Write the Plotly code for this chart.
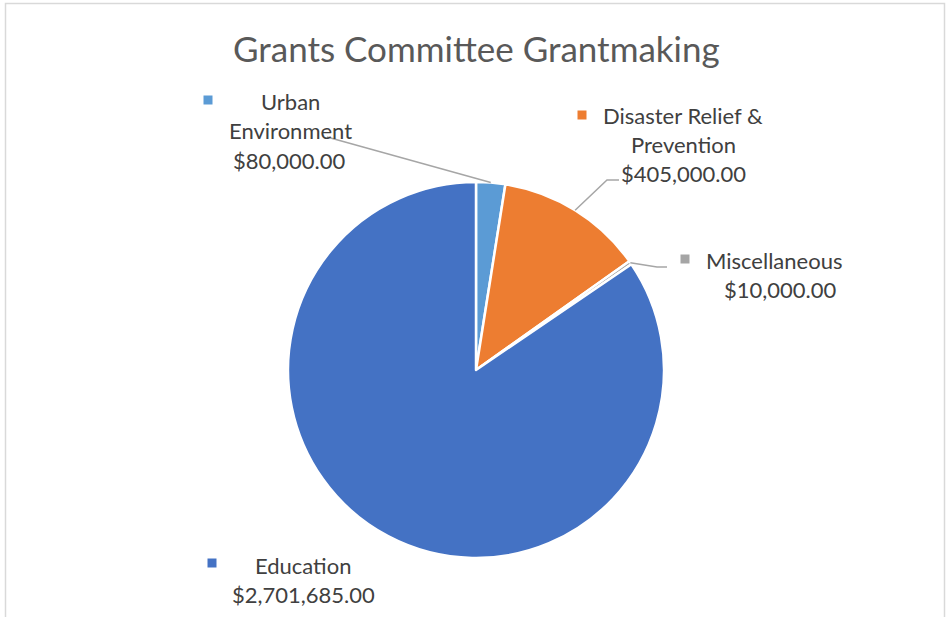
import math
import plotly.graph_objects as go

categories = ["Urban Environment", "Disaster Relief & Prevention", "Miscellaneous", "Education"]
values = [80000, 405000, 10000, 2701685]
colors = ["#5B9BD5", "#ED7D31", "#A5A5A5", "#4472C4"]
title_text = "Grants Committee Grantmaking"

W, H = 947, 617
CX, CY, R = 476, 370, 188

def px(x):
    return x / W

def py(y):
    return 1 - y / H

fig = go.Figure(go.Pie(
    labels=categories, values=values, sort=False, direction="clockwise", rotation=0,
    marker=dict(colors=colors, line=dict(color="white", width=2.5)),
    textinfo="none", hoverinfo="label+value", showlegend=False,
    domain=dict(x=[px(CX - R), px(CX + R)], y=[py(CY + R), py(CY - R)]),
))

total = sum(values)
cum = 0
mids = []
for v in values:
    mids.append((cum + v / 2) / total * 360)
    cum += v

def edge(i):
    a = math.radians(mids[i])
    return CX + R * math.sin(a), CY - R * math.cos(a)

FONT = "Lato"
TXT = "#404040"
LINE = "#A6A6A6"

labels_layout = [
    (["Urban", "Environment", "$%s" % format(values[0], ",.2f")], 102, 208, 100),
    (["Disaster Relief &", "Prevention", "$%s" % format(values[1], ",.2f")], 115, 582, 115),
    (["Miscellaneous", "$%s" % format(values[2], ",.2f")], 260, 685, 259),
    (["Education", "$%s" % format(values[3], ",.2f")], 565, 212, 563),
]
line_x = [
    [290, 290, 289],
    [683, 683, 683],
    [774, 780],
    [303, 303],
]

annotations = [dict(text=title_text, x=px(476), y=py(48), xref="paper", yref="paper",
                    showarrow=False, xanchor="center", yanchor="middle",
                    font=dict(family=FONT, size=35, color="#595959"))]
shapes = []
for k, (lines, y0, kx, ky) in enumerate(labels_layout):
    for j, t in enumerate(lines):
        annotations.append(dict(text=t, x=px(line_x[k][j]), y=py(y0 + j * 29), xref="paper", yref="paper",
                                showarrow=False, xanchor="center", yanchor="middle",
                                font=dict(family=FONT, size=22, color=TXT)))
    shapes.append(dict(type="rect", xref="paper", yref="paper",
                       x0=px(kx - 4.5), x1=px(kx + 4.5), y0=py(ky + 4.5), y1=py(ky - 4.5),
                       fillcolor=colors[k], line=dict(width=0)))

ex, ey = edge(0)
shapes.append(dict(type="path", xref="paper", yref="paper",
                   path="M %f %f L %f %f" % (px(ex), py(ey), px(327), py(137)),
                   line=dict(color=LINE, width=1.5)))
ex, ey = edge(1)
shapes.append(dict(type="path", xref="paper", yref="paper",
                   path="M %f %f L %f %f L %f %f" % (px(ex), py(ey), px(607), py(180), px(619), py(180)),
                   line=dict(color=LINE, width=1.5)))
ex, ey = edge(2)
shapes.append(dict(type="path", xref="paper", yref="paper",
                   path="M %f %f L %f %f L %f %f" % (px(ex), py(ey), px(657), py(267), px(667), py(267)),
                   line=dict(color=LINE, width=1.5)))

shapes.append(dict(type="rect", xref="paper", yref="paper",
                   x0=px(5.5), x1=px(944.5), y0=py(625), y1=py(3.5),
                   line=dict(color="#D9D9D9", width=1.5), fillcolor="rgba(0,0,0,0)"))

fig.update_layout(width=W, height=H, margin=dict(l=0, r=0, t=0, b=0),
                  paper_bgcolor="white", plot_bgcolor="white",
                  annotations=annotations, shapes=shapes)
fig.write_html("out.html", config={"displayModeBar": False},
               post_script="document.body.style.margin='0';document.body.style.overflow='hidden';")
